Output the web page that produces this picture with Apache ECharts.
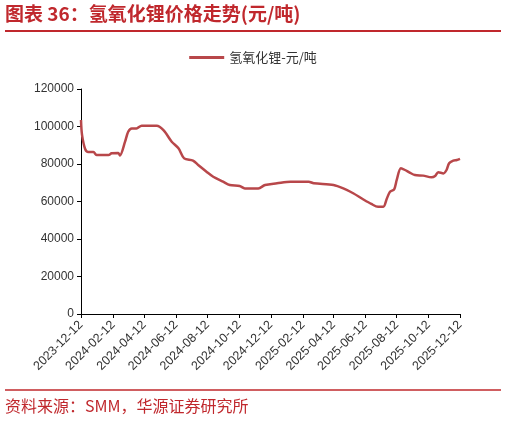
<!DOCTYPE html>
<html><head><meta charset="utf-8">
<script src="https://cdn.jsdelivr.net/npm/echarts@6/dist/echarts.min.js"></script>
<style>html,body{margin:0;padding:0;background:#fff}#c{width:506px;height:424px}</style>
</head><body><div id="c"></div>
<script>
const dates = ['2023-12-12','2023-12-14','2023-12-20','2023-12-26','2024-01-05','2024-01-11','2024-02-03','2024-02-09','2024-02-22','2024-02-25','2024-03-06','2024-03-12','2024-03-19','2024-03-28','2024-04-07','2024-05-06','2024-05-19','2024-06-04','2024-06-17','2024-06-28','2024-07-15','2024-07-25','2024-08-10','2024-08-23','2024-09-11','2024-09-24','2024-10-13','2024-10-23','2024-11-18','2024-12-01','2024-12-24','2025-01-19','2025-02-23','2025-03-05','2025-04-12','2025-05-01','2025-05-20','2025-06-08','2025-06-24','2025-07-07','2025-07-17','2025-07-24','2025-07-30','2025-08-07','2025-08-12','2025-08-20','2025-08-28','2025-09-06','2025-09-16','2025-10-02','2025-10-18','2025-10-25','2025-10-31','2025-11-10','2025-11-16','2025-11-21','2025-11-29','2025-12-06','2025-12-12'];
const prices = [103500,95500,88000,86400,86400,84800,84800,85700,85900,84500,91900,97200,99000,99000,100400,100400,98100,91900,88400,83000,81800,79500,75900,73200,70600,68800,68300,67000,67000,68800,69700,70600,70600,69700,68800,67000,64400,61200,58700,57200,57200,61600,65200,66500,71500,77700,76800,75400,74100,73800,72900,73600,75600,75000,76800,80400,81800,82100,82700];
const tickLabels = ['2023-12-12','2024-02-12','2024-04-12','2024-06-12','2024-08-12','2024-10-12','2024-12-12','2025-02-12','2025-04-12','2025-06-12','2025-08-12','2025-10-12','2025-12-12'];
const seriesName = '氢氧化锂-元/吨';
const titleText = '图表 36：氢氧化锂价格走势(元/吨)';
const sourceText = '资料来源：SMM，华源证券研究所';

function ts(s){const p=s.split('-').map(Number);return Date.UTC(p[0],p[1]-1,p[2]);}
function fmt(v){const d=new Date(v);const m=d.getUTCMonth()+1, dd=d.getUTCDate();return d.getUTCFullYear()+'-'+(m<10?'0':'')+m+'-'+(dd<10?'0':'')+dd;}
const tickTs = tickLabels.map(ts);
const red = '#C0282D';
const cjk = '"Noto Sans CJK SC", sans-serif';
const chart = echarts.init(document.getElementById('c'));
chart.setOption({
  animation:false,
  textStyle:{fontFamily:'"Liberation Sans", Arial, sans-serif'},
  graphic:[
    {type:'text',left:5,top:4,style:{text:titleText,fill:red,font:'bold 19px '+cjk}},
    {type:'line',shape:{x1:5,y1:31,x2:501,y2:31},style:{stroke:red,lineWidth:2}},
    {type:'line',shape:{x1:5,y1:390,x2:501,y2:390},style:{stroke:red,lineWidth:1.5}},
    {type:'text',left:5,top:398,style:{text:sourceText,fill:red,font:'16px '+cjk}}
  ],
  legend:{top:46,left:'center',itemWidth:35,itemHeight:3,icon:'rect',itemGap:5,
    textStyle:{fontFamily:cjk,fontSize:13,color:'#333'},data:[seriesName]},
  grid:{left:81,right:46,top:89,bottom:110,containLabel:false},
  xAxis:{type:'value',min:tickTs[0],max:tickTs[tickTs.length-1],
    axisLine:{lineStyle:{color:'#000',width:1}},
    axisTick:{show:true,customValues:tickTs,length:4,lineStyle:{color:'#000'}},
    axisLabel:{customValues:tickTs,rotate:45,fontSize:12.5,color:'#333',formatter:v=>fmt(v),margin:9,hideOverlap:false,showMinLabel:true,showMaxLabel:true},
    splitLine:{show:false}},
  yAxis:{type:'value',min:0,max:120000,interval:20000,
    axisLine:{show:true,lineStyle:{color:'#000'}},
    axisTick:{show:true,length:4,lineStyle:{color:'#000'}},
    axisLabel:{fontSize:12,color:'#333',margin:7,formatter:v=>String(v)},
    splitLine:{show:false}},
  series:[{name:seriesName,type:'line',showSymbol:false,smooth:0.3,
    lineStyle:{color:'#B8474A',width:2.5},itemStyle:{color:'#B8474A'},
    data:dates.map((d,i)=>[ts(d),prices[i]])}]
});
</script></body></html>
